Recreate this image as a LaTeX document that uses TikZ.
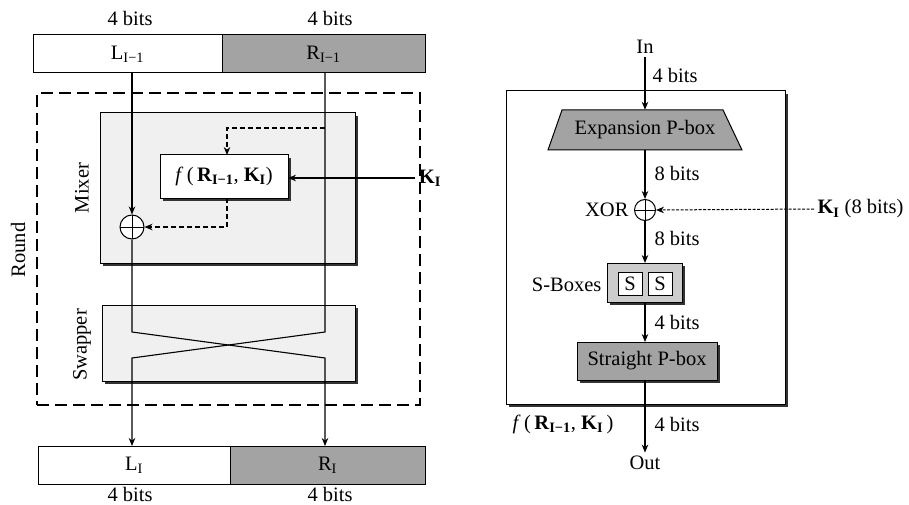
\documentclass[tikz,border=0pt]{standalone}
\usepackage{fontspec}
\setmainfont{Liberation Serif}
\usetikzlibrary{arrows.meta,calc,shadows}
\begin{document}
\begin{tikzpicture}[x=1pt,y=-1pt,
  every node/.style={font=\fontsize{20.5}{23}\selectfont},
  arr/.style={-{Stealth[length=8pt,width=6.5pt]}},
  ln/.style={line width=1.1pt},
  bar/.style={draw,line width=1pt,inner sep=0pt,outer sep=0pt,minimum height=38pt},
  darkfill/.style={fill=black!36},
  shbox/.style={draw,line width=1pt,inner sep=0pt,outer sep=0pt,
    drop shadow={shadow xshift=3pt,shadow yshift=-3pt,opacity=1,fill=black!80}},
  xorc/.style={circle,draw,line width=1pt,fill=white,inner sep=0pt,
    path picture={\draw[line width=0.9pt] (path picture bounding box.north) -- (path picture bounding box.south)
      (path picture bounding box.west) -- (path picture bounding box.east);}},
  dsh/.style={dash pattern=on 5pt off 3pt,line width=1.1pt},
  rdash/.style={dash pattern=on 12pt off 6pt,line width=1.2pt},
]
\useasboundingbox (0,0) rectangle (909,505);

% ---------- left part ----------
\node (b1) at (130,18) {4 bits};
\node (b2) at (330,18) {4 bits};
\node[bar,fill=white,minimum width=189pt] (Ltop) at (127.5,54) {L\textsubscript{I−1}};
\node[bar,darkfill,minimum width=203pt] (Rtop) at (323.5,54) {R\textsubscript{I−1}};

\node[draw,rdash,minimum width=383pt,minimum height=312pt,inner sep=0pt] (round) at (228.5,249) {};
\node[rotate=90] (roundlbl) at (18,250) {Round};

\node[shbox,fill=black!6,minimum width=255pt,minimum height=150pt] (mixer) at (227.5,188) {};
\node[rotate=90] (mixlbl) at (82,188) {Mixer};
\node[shbox,fill=black!6,minimum width=253pt,minimum height=76pt] (swapper) at (228.5,343) {};
\node[rotate=90] (swlbl) at (82,345) {Swapper};

\node[shbox,fill=white,minimum width=128pt,minimum height=43pt] (f) at (224,176.5)
  {\textit{f}\,(\,\textbf{R}\textsubscript{\textbf{I−1}}, \textbf{K}\textsubscript{\textbf{I}})};
\node[xorc,minimum size=24pt] (xor1) at (132,227) {};
\node (k1) at (430,178) {\textbf{K}\textsubscript{\textbf{I}}};

\node[bar,fill=white,minimum width=192pt] (Lbot) at (134,465) {L\textsubscript{I}};
\node[bar,darkfill,minimum width=195pt] (Rbot) at (327.5,465) {R\textsubscript{I}};
\node (b3) at (130,494) {4 bits};
\node (b4) at (330,494) {4 bits};

\coordinate (rs) at (325,73);
\coordinate (rk) at (325,332);
\coordinate (lk) at (132,332);
\coordinate (rc) at (325,358);
\coordinate (lc) at (132,358);
\coordinate (rbr) at (325,128);
\coordinate (fin) at (227,155);
\coordinate (fout) at (227,198);

\draw[ln,arr] (Ltop.south -| xor1.north) -- (xor1.north);
\draw[ln,arr] (rs) -- (rk) -- (lc) -- (Lbot.north -| lc);
\draw[ln,arr] (xor1.south) -- (lk) -- (rc) -- (Rbot.north -| rc);
\draw[dsh,arr] (rbr) -| (fin);
\draw[dsh,arr] (fout) |- (xor1.east);
\draw[ln,arr] (k1.west) -- (k1.west -| f.east);

% ---------- right part ----------
\node[shbox,fill=white,minimum width=279pt,minimum height=313pt] (fbox) at (645.5,247.5) {};
\node (in) at (645,47) {In};
\fill[black!36,draw=black,line width=1pt] (562,110) -- (723,110) -- (742,150) -- (548,150) -- cycle;
\node[inner sep=0pt,minimum height=40pt] (exp) at (645,130) {Expansion P-box};
\node[xorc,minimum size=21pt] (xor2) at (645,210) {};
\node[anchor=east] (xorlbl) at (632,210) {XOR};
\node[anchor=west] (k2) at (814,209) {\textbf{K}\textsubscript{\textbf{I}} (8 bits)};

\node[shbox,fill=black!20,minimum width=75pt,minimum height=39pt] (sbox) at (644.5,282.5) {};
\node[draw,fill=white,line width=1pt,minimum width=24pt,minimum height=23pt,inner sep=0pt] (s1) at (630,283.5) {S};
\node[draw,fill=white,line width=1pt,minimum width=24pt,minimum height=23pt,inner sep=0pt] (s2) at (660,283.5) {S};
\node[anchor=east] (sblbl) at (605,285) {S-Boxes};

\node[shbox,fill=black!36,minimum width=140pt,minimum height=38pt] (spbox) at (647,361) {Straight P-box};
\node (out) at (645,463) {Out};
\node (flbl) at (563,424) {\textit{f}\,(\,\textbf{R}\textsubscript{\textbf{I−1}}, \textbf{K}\textsubscript{\textbf{I}}\,)};

\node[anchor=west] (r1) at (649,75) {4 bits};
\node[anchor=west] (r2) at (651,173) {8 bits};
\node[anchor=west] (r3) at (651,238) {8 bits};
\node[anchor=west] (r4) at (651,322) {4 bits};
\node[anchor=west] (r5) at (651,424) {4 bits};

\draw[ln,arr] (in.south) -- (exp.north);
\draw[ln,arr] (exp.south) -- (xor2.north);
\draw[dash pattern=on 3pt off 1.5pt,line width=1pt,arr] (k2.west) -- (xor2.east);
\draw[ln,arr] (xor2.south) -- (sbox.north -| xor2.south);
\draw[ln,arr] (sbox.south -| xor2.south) -- (spbox.north -| xor2.south);
\draw[ln,arr] (spbox.south -| xor2.south) -- (out.north);
\end{tikzpicture}
\end{document}
